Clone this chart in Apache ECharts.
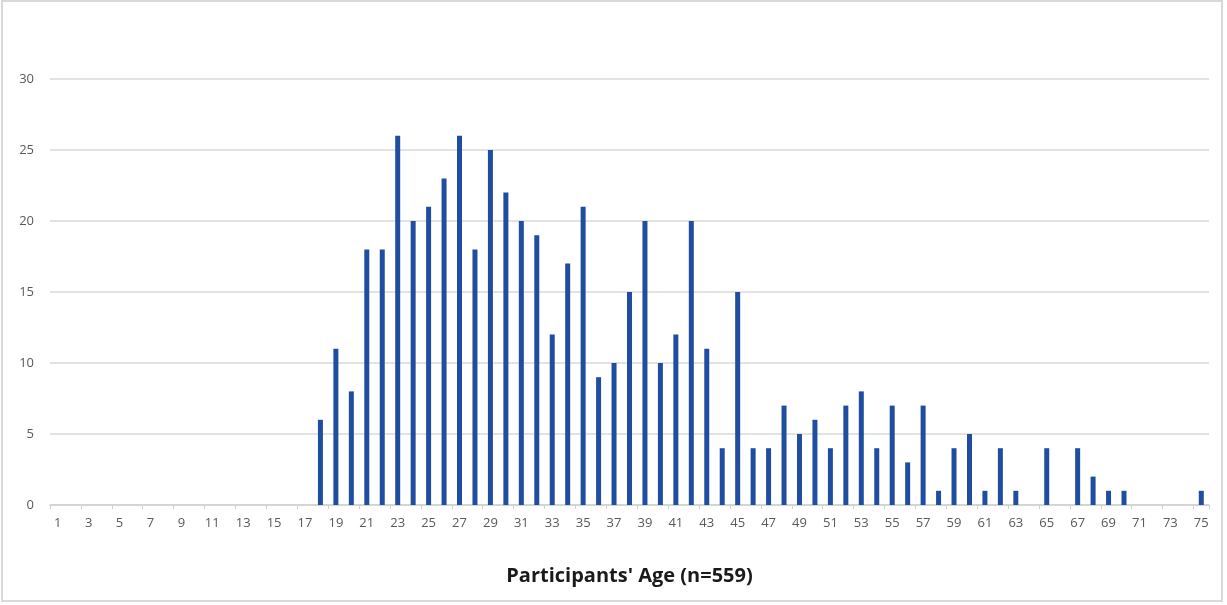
<!DOCTYPE html>
<html>
<head>
<meta charset="utf-8">
<script src="https://cdn.jsdelivr.net/npm/echarts@6/dist/echarts.min.js"></script>
<style>
html, body { margin: 0; padding: 0; background: #fff; }
#main { position: absolute; left: 1px; top: 0; width: 1222px; height: 602px; border: 2px solid #d9d9d9; box-sizing: border-box; }
</style>
</head>
<body>
<div id="main"></div>
<script>
// ages 1..75
var ages = [];
for (var a = 1; a <= 75; a++) ages.push(String(a));

// number of participants per age
var counts = [
  0, 0, 0, 0, 0, 0, 0, 0, 0, 0,        // 1-10
  0, 0, 0, 0, 0, 0, 0, 6, 11, 8,       // 11-20
  18, 18, 26, 20, 21, 23, 26, 18, 25, 22, // 21-30
  20, 19, 12, 17, 21, 9, 10, 15, 20, 10,  // 31-40
  12, 20, 11, 4, 15, 4, 4, 7, 5, 6,       // 41-50
  4, 7, 8, 4, 7, 3, 7, 1, 4, 5,           // 51-60
  1, 4, 1, 0, 4, 0, 4, 2, 1, 1,           // 61-70
  0, 0, 0, 0, 1                           // 71-75
];

var yTicks = [0, 5, 10, 15, 20, 25, 30];
var xTitle = "Participants' Age (n=559)";

var chart = echarts.init(document.getElementById('main'));
var option = {
  animation: false,
  grid: { left: 47, right: 12, top: 77, bottom: 95 },
  xAxis: {
    type: 'category',
    data: ages,
    name: xTitle,
    nameLocation: 'middle',
    nameGap: 61,
    nameTextStyle: { fontFamily: 'Open Sans', fontWeight: 'bold', fontSize: 20, color: '#1a1a1a' },
    axisLine: { lineStyle: { color: '#d0d0d0', width: 1.5 } },
    axisTick: { show: true, length: 4, lineStyle: { color: '#d0d0d0' } },
    axisLabel: { interval: 1, color: '#595959', fontSize: 13, fontFamily: 'Open Sans', margin: 12 }
  },
  yAxis: {
    type: 'value',
    min: yTicks[0],
    max: yTicks[yTicks.length - 1],
    interval: 5,
    axisLine: { show: false },
    axisTick: { show: false },
    axisLabel: { color: '#595959', fontSize: 13, fontFamily: 'Open Sans', margin: 16 },
    splitLine: { lineStyle: { color: '#d9d9d9', width: 1.5 } }
  },
  series: [{
    type: 'bar',
    data: counts,
    barWidth: 5,
    itemStyle: { color: '#1f4ea0' }
  }]
};
chart.setOption(option);
</script>
</body>
</html>
